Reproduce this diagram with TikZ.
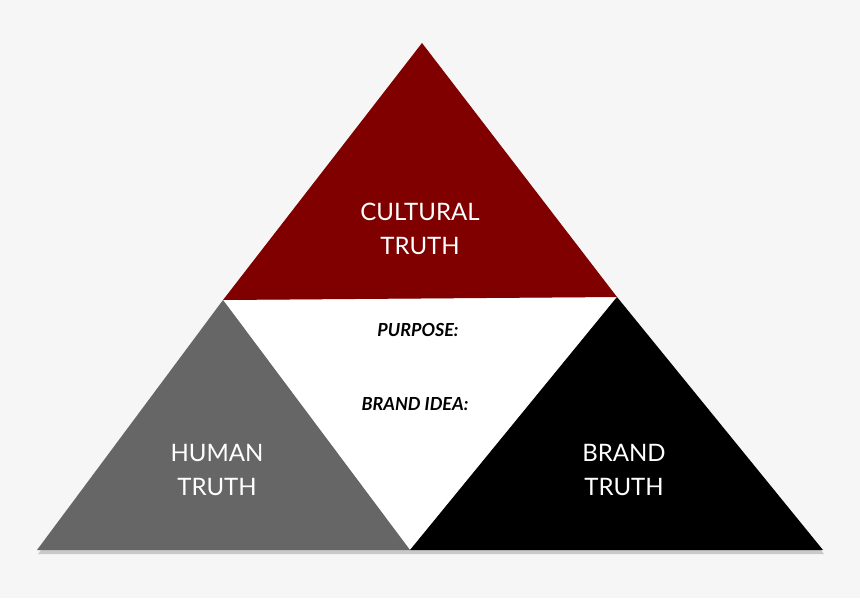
\documentclass[tikz,border=0pt]{standalone}
\usepackage{fontspec}
\setmainfont{Lato}
\usepackage{xcolor}
\definecolor{bgpaper}{HTML}{F6F6F6}
\definecolor{culturered}{HTML}{800000}
\definecolor{humangray}{HTML}{666666}

\begin{document}
\begin{tikzpicture}[x=1pt,y=-1pt,
  bigtext/.style={text=white, align=center, font=\fontsize{24}{34}\selectfont},
  smalltext/.style={text=black, font=\bfseries\itshape\fontsize{18}{20}\selectfont},
  shade/.style={fill=black, opacity=0.18}]
  % Background
  \fill[bgpaper] (0,0) rectangle (860,598);
  \useasboundingbox (0,0) rectangle (860,598);

  % Corners
  \coordinate (apex) at (422,43);
  \coordinate (redleft) at (223,300);
  \coordinate (redright) at (617,297);
  \coordinate (baseleft) at (37,550);
  \coordinate (basemid) at (410,550);
  \coordinate (baseright) at (823,550);

  % Shadows
  \fill[shade] ([shift={(2,4)}]redleft) -- ([shift={(2,4)}]redright) -- ([shift={(2,4)}]apex) -- cycle;
  \fill[shade] ([shift={(1,4)}]baseleft) -- ([shift={(1,4)}]baseright) -- ([shift={(1,4)}]redright) -- ([shift={(1,4)}]redleft) -- cycle;

  % Middle triangle
  \fill[white] (redleft) -- (redright) -- (basemid) -- cycle;

  % Top triangle
  \fill[culturered] (apex) -- (redright) -- (redleft) -- cycle;

  % Side triangles
  \fill[humangray] (redleft) -- (basemid) -- (baseleft) -- cycle;
  \fill[black] (redright) -- (baseright) -- (basemid) -- cycle;

  % Labels
  \node[bigtext] (cultural) at (420,229) {CULTURAL\\TRUTH};
  \node[bigtext] (human) at (217,470) {HUMAN\\TRUTH};
  \node[bigtext] (brand) at (624,470) {BRAND\\TRUTH};
  \node[smalltext] (purpose) at (418,330) {PURPOSE:};
  \node[smalltext] (idea) at (415,404) {BRAND IDEA:};
\end{tikzpicture}
\end{document}
